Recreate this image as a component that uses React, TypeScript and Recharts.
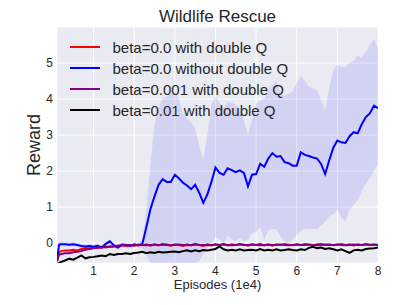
import React from "react";
import {
  Area,
  CartesianGrid,
  ComposedChart,
  Line,
  XAxis,
  YAxis,
} from "recharts";

const W = 407;
const H = 305;
const INK = "#262626";
const FONT = "'Liberation Sans', Arial, sans-serif";

// episodes, in units of 1e4
const episodes = [
  0.1, 0.15, 0.2, 0.3, 0.4, 0.5, 0.6, 0.7, 0.8, 0.9,
  1.0, 1.1, 1.2, 1.3, 1.4, 1.5, 1.6, 1.7, 1.8, 1.9,
  2.0, 2.1, 2.2, 2.3, 2.4, 2.5, 2.6, 2.7, 2.8, 2.9,
  3.0, 3.1, 3.2, 3.3, 3.4, 3.5, 3.6, 3.7, 3.8, 3.9,
  4.0, 4.1, 4.2, 4.3, 4.4, 4.5, 4.6, 4.7, 4.8, 4.9,
  5.0, 5.1, 5.2, 5.3, 5.4, 5.5, 5.6, 5.7, 5.8, 5.9,
  6.0, 6.1, 6.2, 6.3, 6.4, 6.5, 6.6, 6.7, 6.8, 6.9,
  7.0, 7.1, 7.2, 7.3, 7.4, 7.5, 7.6, 7.7, 7.8, 7.9,
  8.0,
];

// beta=0.0 with double Q
const redMean = [
  -0.5, -0.25, -0.22, -0.2, -0.2, -0.18, -0.2, -0.16, -0.14, -0.15,
  -0.12, -0.13, -0.1, -0.12, -0.09, -0.1, -0.08, -0.06, -0.08, -0.05,
  -0.07, -0.04, -0.06, -0.03, -0.07, -0.04, -0.06, -0.02, -0.05, -0.07,
  -0.03, -0.05, -0.08, -0.03, -0.06, -0.02, -0.05, -0.08, -0.03, -0.06,
  -0.03, -0.05, -0.02, -0.06, -0.03, -0.05, -0.02, -0.04, -0.07, -0.03,
  -0.05, -0.02, -0.06, -0.04, -0.07, -0.03, -0.05, -0.02, -0.04, -0.06,
  -0.03, -0.05, -0.02, -0.04, -0.06, -0.03, -0.02, -0.05, -0.03, -0.06,
  -0.04, -0.02, -0.05, -0.03, -0.06, -0.03, -0.05, -0.02, -0.04, -0.03,
  -0.05,
];

// beta=0.0 without double Q
const blueMean = [
  -0.5, -0.04, -0.03, -0.03, -0.04, -0.03, -0.05, -0.08, -0.09, -0.08,
  -0.1, -0.07, -0.12, -0.02, 0.05, -0.06, -0.12, -0.04, -0.05, -0.08,
  -0.03, -0.06, -0.02, 0.45, 0.95, 1.3, 1.62, 1.78, 1.7, 1.7,
  1.9, 1.8, 1.68, 1.6, 1.5, 1.62, 1.4, 1.12, 1.35, 1.7,
  2.1, 1.95, 1.9, 2.08, 2.03, 1.97, 2.02, 1.95, 1.58, 1.9,
  1.92, 2.2, 2.12, 2.35, 2.5, 2.4, 2.42, 2.25, 2.22, 2.15,
  2.15, 2.52, 2.45, 2.42, 2.38, 2.35, 2.2, 1.92, 2.3, 2.65,
  2.85, 2.8, 2.78, 2.97, 3.08, 3.05, 3.3, 3.5, 3.6, 3.82,
  3.75,
];
const blueHigh = [
  -0.45, 0.02, 0.03, 0.03, 0.02, 0.03, 0.01, -0.02, -0.03, -0.02,
  -0.04, -0.01, -0.06, 0.04, 0.11, 0.0, -0.06, 0.02, 0.01, -0.02,
  0.03, 0.0, 0.1, 0.9, 2.2, 3.3, 3.75, 4.03, 4.07, 4.15,
  4.2, 4.0, 3.6, 3.47, 3.35, 3.2, 2.7, 2.3, 3.0, 3.85,
  4.07, 3.9, 3.75, 3.93, 3.9, 3.85, 3.75, 3.4, 3.0, 3.45,
  3.9, 3.95, 4.0, 4.25, 4.4, 4.5, 4.15, 4.1, 4.15, 4.2,
  4.45, 4.65, 4.5, 4.35, 4.3, 4.25, 3.95, 3.7, 4.3, 4.8,
  4.95, 4.9, 4.88, 5.02, 5.05, 5.2, 5.15, 5.3, 5.5, 5.65,
  5.42,
];
const blueLow = [
  -0.55, -0.1, -0.09, -0.09, -0.1, -0.09, -0.11, -0.14, -0.15, -0.14,
  -0.16, -0.13, -0.18, -0.08, -0.01, -0.12, -0.18, -0.1, -0.11, -0.14,
  -0.09, -0.12, -0.14, -0.35, -0.55, -0.55, -0.55, -0.55, -0.55, -0.55,
  -0.55, -0.55, -0.55, -0.55, -0.55, -0.55, -0.5, -0.3, -0.12, 0.0,
  0.18, 0.1, 0.02, 0.2, 0.1, 0.05, 0.15, 0.05, 0.1, 0.28,
  0.3, 0.46, 0.1, 0.35, 0.4, 0.37, 0.2, 0.05, 0.0, 0.1,
  0.22, 0.35, 0.4, 0.38, 0.4, 0.37, 0.5, 0.6, 0.75, 0.8,
  0.92, 0.7, 0.6, 0.93, 1.05, 1.2, 1.45, 1.65, 1.8, 2.0,
  2.2,
];

// beta=0.001 with double Q
const purpleMean = [
  -0.5, -0.32, -0.3, -0.28, -0.28, -0.25, -0.24, -0.22, -0.18, -0.16,
  -0.14, -0.12, -0.12, -0.1, -0.1, -0.08, -0.07, -0.06, -0.06, -0.05,
  -0.06, -0.05, -0.05, -0.06, -0.05, -0.04, -0.05, -0.05, -0.04, -0.06,
  -0.05, -0.04, -0.05, -0.06, -0.05, -0.04, -0.05, -0.05, -0.06, -0.05,
  -0.04, -0.05, -0.04, -0.05, -0.06, -0.05, -0.04, -0.05, -0.05, -0.04,
  -0.05, -0.06, -0.05, -0.04, -0.05, -0.05, -0.04, -0.05, -0.06, -0.05,
  -0.04, -0.05, -0.05, -0.04, -0.05, -0.06, -0.05, -0.04, -0.05, -0.05,
  -0.04, -0.05, -0.06, -0.05, -0.04, -0.05, -0.05, -0.04, -0.05, -0.05,
  -0.04,
];

// beta=0.01 with double Q
const blackMean = [
  -0.6, -0.55, -0.52, -0.48, -0.43, -0.46, -0.4, -0.34, -0.42, -0.39,
  -0.38, -0.36, -0.34, -0.36, -0.3, -0.33, -0.3, -0.3, -0.28, -0.3,
  -0.27, -0.26, -0.24, -0.28, -0.25, -0.27, -0.24, -0.26, -0.25, -0.24,
  -0.23, -0.25, -0.22, -0.2, -0.23, -0.2, -0.22, -0.19, -0.2, -0.18,
  -0.16, -0.09, -0.17, -0.2, -0.18, -0.2, -0.17, -0.2, -0.19, -0.18,
  -0.2, -0.16, -0.2, -0.18, -0.2, -0.17, -0.2, -0.19, -0.17, -0.19,
  -0.2, -0.17, -0.19, -0.13, -0.1, -0.14, -0.12, -0.16, -0.14, -0.17,
  -0.2, -0.17, -0.22, -0.27, -0.2, -0.18, -0.2, -0.16, -0.15, -0.14,
  -0.12,
];

const xTicks = [1, 2, 3, 4, 5, 6, 7, 8];
const yTicks = [0, 1, 2, 3, 4, 5];

const series = [
  { key: "red", name: "beta=0.0 with double Q", color: "#ff0000" },
  { key: "blue", name: "beta=0.0 without double Q", color: "#0000ff" },
  { key: "purple", name: "beta=0.001 with double Q", color: "#800080" },
  { key: "black", name: "beta=0.01 with double Q", color: "#000000" },
];

const rows = episodes.map((x, i) => ({
  x,
  red: redMean[i],
  blue: blueMean[i],
  band: [blueLow[i], blueHigh[i]],
  purple: purpleMean[i],
  black: blackMean[i],
}));

function Overlay() {
  return (
    <svg
      width={W}
      height={H}
      style={{ position: "absolute", left: 0, top: 0, pointerEvents: "none" }}
    >
      <text x={217.5} y={21.5} textAnchor="middle" fontSize={17} fill={INK}>
        Wildlife Rescue
      </text>
      <text
        x={40}
        y={145}
        textAnchor="middle"
        fontSize={18}
        fill={INK}
        transform="rotate(-90 40 145)"
      >
        Reward
      </text>
      <text x={217.5} y={289} textAnchor="middle" fontSize={13} fill={INK}>
        Episodes (1e4)
      </text>
      {series.map((s, i) => {
        const y = 47 + i * 21;
        return (
          <g key={s.key}>
            <line x1={70} x2={100} y1={y} y2={y} stroke={s.color} strokeWidth={2} />
            <text x={112.5} y={y + 5.5} fontSize={15} fill={INK}>
              {s.name}
            </text>
          </g>
        );
      })}
    </svg>
  );
}

export default function App() {
  return (
    <div
      style={{
        position: "absolute",
        left: 0,
        top: 0,
        width: W,
        height: H,
        background: "#fff",
        fontFamily: FONT,
      }}
    >
      <ComposedChart
        width={W}
        height={H}
        data={rows}
        margin={{ top: 27, right: 29, left: 0, bottom: 0 }}
      >
        <CartesianGrid fill="#eaeaf2" stroke="#ffffff" strokeWidth={1} />
        <XAxis
          type="number"
          dataKey="x"
          domain={[0.1, 8]}
          ticks={xTicks}
          allowDataOverflow
          height={42}
          axisLine={false}
          tickLine={false}
          tickSize={0}
          tickMargin={3}
          tick={{ fontSize: 12, fill: INK }}
        />
        <YAxis
          type="number"
          domain={[-0.55, 6]}
          ticks={yTicks}
          allowDataOverflow
          width={57}
          axisLine={false}
          tickLine={false}
          tickSize={0}
          tickMargin={4}
          tick={{ fontSize: 12, fill: INK }}
        />
        <Area
          type="linear"
          dataKey="band"
          stroke="none"
          fill="#0000ff"
          fillOpacity={0.1}
          isAnimationActive={false}
          activeDot={false}
        />
        {series.map((s) => (
          <Line
            key={s.key}
            type="linear"
            dataKey={s.key}
            name={s.name}
            stroke={s.color}
            strokeWidth={2}
            dot={false}
            activeDot={false}
            isAnimationActive={false}
          />
        ))}
      </ComposedChart>
      <Overlay />
    </div>
  );
}
